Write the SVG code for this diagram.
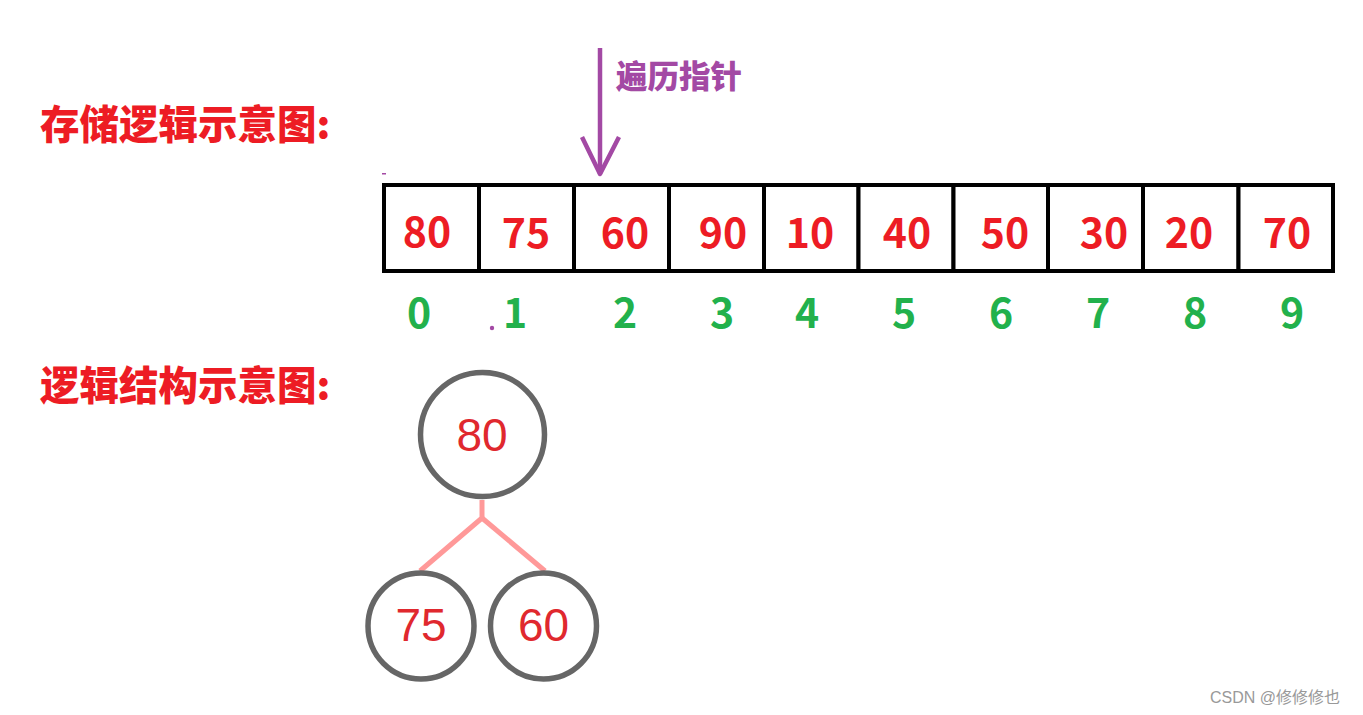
<svg xmlns="http://www.w3.org/2000/svg" width="1363" height="715" viewBox="0 0 1363 715">
<style>
.head{font-family:"Noto Sans CJK SC","Noto Sans",sans-serif;font-weight:900;font-size:39.5px;fill:#ed1c24}
.cell{fill:#fff;stroke:#000;stroke-width:4}
.val{font-family:"Noto Sans CJK SC","Noto Sans",sans-serif;font-weight:bold;font-size:41px;fill:#ed1c24;text-anchor:middle}
.idx{font-family:"Noto Sans CJK SC","Noto Sans",sans-serif;font-weight:bold;font-size:41px;fill:#22b14c;text-anchor:middle}
.ptr{font-family:"Noto Sans CJK SC","Noto Sans",sans-serif;font-weight:900;font-size:31.5px;fill:#a349a4}
.tn{fill:#fff;stroke:#666;stroke-width:5.5}
.tt{font-family:"Liberation Sans",Arial,sans-serif;font-size:46px;fill:#e0282e;text-anchor:middle}
.edge{fill:none;stroke:#ff9999;stroke-width:5}
</style>
<rect width="1363" height="715" fill="#fff"/>
<g id="heading-storage"><text class="head" x="40" y="139">存储逻辑示意图:</text></g>
<g id="heading-logic"><text class="head" x="40" y="400">逻辑结构示意图:</text></g>
<g id="pointer">
<line x1="600" y1="48" x2="600" y2="174" stroke="#a349a4" stroke-width="4.5"/>
<polyline points="582,137 600,174 619,137" fill="none" stroke="#a349a4" stroke-width="4.5" stroke-linejoin="round"/>
<text class="ptr" x="616" y="88">遍历指针</text>
</g>
<g id="array">
<rect class="cell" x="384" y="185" width="95" height="86"/>
<rect class="cell" x="479" y="185" width="95" height="86"/>
<rect class="cell" x="574" y="185" width="95" height="86"/>
<rect class="cell" x="669" y="185" width="95" height="86"/>
<rect class="cell" x="764" y="185" width="94.5" height="86"/>
<rect class="cell" x="858.5" y="185" width="95" height="86"/>
<rect class="cell" x="953.5" y="185" width="94.5" height="86"/>
<rect class="cell" x="1048" y="185" width="95" height="86"/>
<rect class="cell" x="1143" y="185" width="95.5" height="86"/>
<rect class="cell" x="1238.5" y="185" width="94.5" height="86"/>
<text class="val" x="427" y="247">80</text>
<text class="val" x="526" y="248">75</text>
<text class="val" x="625" y="248">60</text>
<text class="val" x="723" y="248">90</text>
<text class="val" x="810" y="248">10</text>
<text class="val" x="907" y="248">40</text>
<text class="val" x="1005" y="248">50</text>
<text class="val" x="1104" y="248">30</text>
<text class="val" x="1189" y="248">20</text>
<text class="val" x="1287" y="248">70</text>
</g>
<g id="indices">
<text class="idx" x="419" y="328">0</text>
<text class="idx" x="515" y="328">1</text>
<text class="idx" x="625" y="328">2</text>
<text class="idx" x="722" y="328">3</text>
<text class="idx" x="807" y="328">4</text>
<text class="idx" x="904" y="328">5</text>
<text class="idx" x="1001" y="328">6</text>
<text class="idx" x="1098" y="328">7</text>
<text class="idx" x="1195" y="328">8</text>
<text class="idx" x="1292" y="328">9</text>
<circle cx="492" cy="328" r="2.2" fill="#a349a4"/>
<rect x="382" y="173" width="4" height="1.5" fill="#a349a4"/>
</g>
<g id="connectors">
<polyline class="edge" points="482,500 482,518 420,571"/>
<line class="edge" x1="482" y1="518" x2="545" y2="571"/>
</g>
<g id="node-80"><circle class="tn" cx="482.5" cy="434.5" r="62"/><text class="tt" x="482" y="451">80</text></g>
<g id="node-75"><circle class="tn" cx="421" cy="626" r="53"/><text class="tt" x="421" y="641">75</text></g>
<g id="node-60"><circle class="tn" cx="543.5" cy="626" r="53"/><text class="tt" x="543.5" y="641">60</text></g>
<g id="watermark"><text x="1210" y="703" font-family="Liberation Sans,'Noto Sans CJK SC',sans-serif" font-size="16" fill="#999">CSDN @修修修也</text></g>
</svg>
